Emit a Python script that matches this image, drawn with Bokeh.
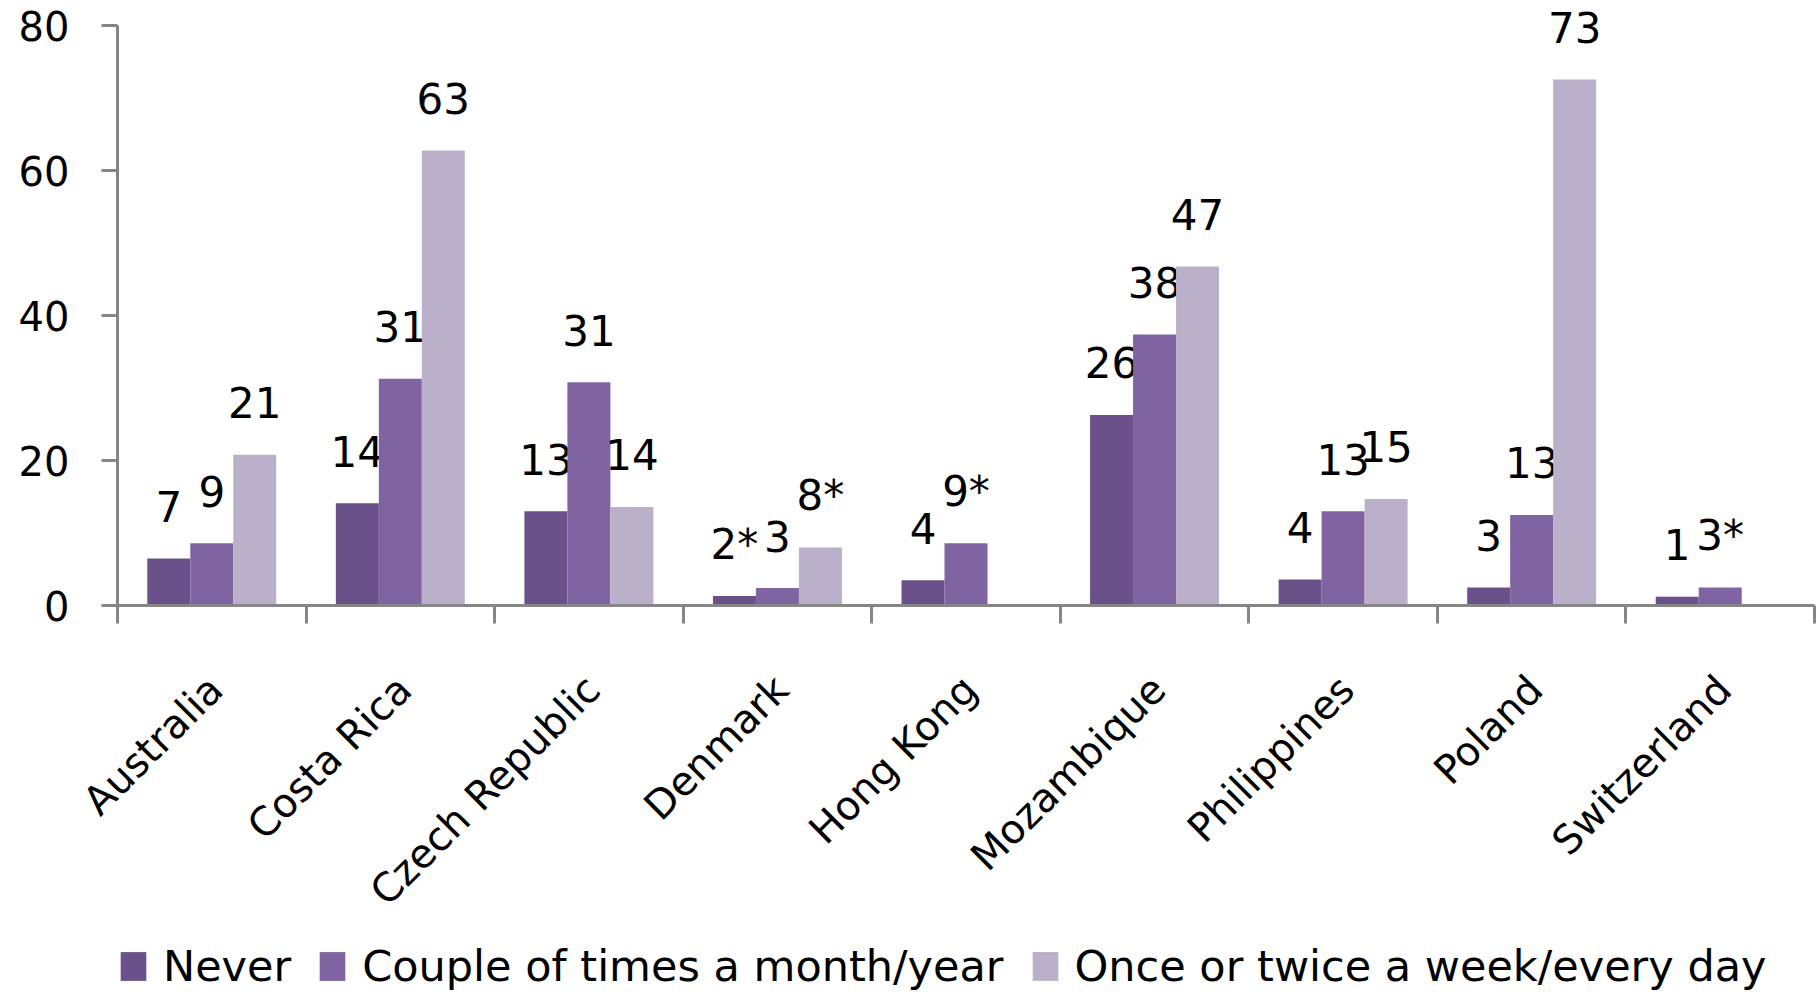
import math
from bokeh.plotting import figure
from bokeh.layouts import column
from bokeh.models import (ColumnDataSource, Range1d, FixedTicker, LinearAxis,
                          Legend, LegendItem)
from bokeh.core.properties import value
from bokeh.embed import file_html
from bokeh.resources import INLINE

countries = ["Australia", "Costa Rica", "Czech Republic", "Denmark", "Hong Kong",
             "Mozambique", "Philippines", "Poland", "Switzerland"]
series = ["Never", "Couple of times a month/year", "Once or twice a week/every day"]
never = [6.5, 14.1, 13.0, 1.3, 3.5, 26.3, 3.6, 2.5, 1.2]
couple = [8.6, 31.3, 30.8, 2.4, 8.6, 37.4, 13.0, 12.5, 2.5]
often = [20.8, 62.8, 13.6, 8.0, None, 46.8, 14.7, 72.6, None]
never_labels = ["7", "14", "13", "2*", "4", "26", "4", "3", "1"]
couple_labels = ["9", "31", "31", "3", "9*", "38", "13", "13", "3*"]
often_labels = ["21", "63", "14", "8*", "", "47", "15", "73", ""]
y_ticks = [0, 20, 40, 60, 80]

colors = ["#6A5189", "#8064A2", "#BAB0CA"]
FONT = "DejaVu Sans"

p = figure(width=1820, height=935, output_backend="svg", toolbar_location=None,
           x_range=Range1d(0, len(countries)), y_range=Range1d(0, 82.4),
           x_axis_type=None, y_axis_type=None,
           min_border_left=117, min_border_right=6, min_border_top=8,
           min_border_bottom=330)
p.outline_line_color = None
p.xgrid.visible = False
p.ygrid.visible = False
p.background_fill_color = "white"
p.border_fill_color = "white"

bar_w = 0.228
sources = []
for k, (vals, labs) in enumerate([(never, never_labels), (couple, couple_labels), (often, often_labels)]):
    xs, tops, texts = [], [], []
    for i, (v, t) in enumerate(zip(vals, labs)):
        if v is None:
            continue
        xs.append(i + 0.5 + (k - 1) * bar_w)
        tops.append(v)
        texts.append(t)
    src = ColumnDataSource(dict(x=xs, top=tops, text=texts))
    sources.append(src)
    p.vbar(x="x", top="top", width=bar_w, bottom=0, source=src,
           fill_color=colors[k], line_color=None)
    p.text(x="x", y="top", text="text", source=src, text_align="center",
           text_baseline="alphabetic", y_offset=-52,
           text_font=value(FONT), text_font_size="42px", text_color="black")

# y axis
yax = LinearAxis(ticker=FixedTicker(ticks=y_ticks), bounds=(0, 80))
yax.axis_line_color = "#868686"
yax.axis_line_width = 3
yax.major_tick_line_color = "#868686"
yax.major_tick_line_width = 3
yax.major_tick_in = 0
yax.major_tick_out = 16
yax.minor_tick_line_color = None
yax.major_label_standoff = 32
yax.major_label_text_font = FONT
yax.major_label_text_font_size = "40px"
yax.major_label_text_color = "black"
p.add_layout(yax, "left")

# x axis: category boundaries as (minor) ticks, names at category centres
label_pos = [i + 0.5 + 0.02 for i in range(len(countries))]
bounds = list(range(len(countries) + 1))
xax = LinearAxis(ticker=FixedTicker(ticks=label_pos, minor_ticks=bounds))
xax.major_label_overrides = {pos: name for pos, name in zip(label_pos, countries)}
xax.axis_line_color = "#868686"
xax.axis_line_width = 3
xax.major_tick_line_color = None
xax.major_tick_in = 0
xax.major_tick_out = 0
xax.minor_tick_line_color = "#868686"
xax.minor_tick_line_width = 3
xax.minor_tick_in = 0
xax.minor_tick_out = 18
xax.major_label_orientation = math.pi / 4
xax.major_label_standoff = 59
xax.major_label_text_font = FONT
xax.major_label_text_font_size = "40px"
xax.major_label_text_color = "black"
p.add_layout(xax, "below")

# legend strip underneath (proxies share the chart's data, hidden)
lg = figure(width=1820, height=57, output_backend="svg", toolbar_location=None,
            x_range=Range1d(0, 1), y_range=Range1d(0, 1),
            x_axis_type=None, y_axis_type=None,
            min_border_left=0, min_border_right=0, min_border_top=0, min_border_bottom=0)
lg.outline_line_color = None
lg.xgrid.visible = False
lg.ygrid.visible = False
lg.border_fill_color = "white"
items = []
for s, c, src in zip(series, colors, sources):
    r = lg.vbar(x="x", top="top", width=bar_w, source=src, fill_color=c, line_color=None)
    r.visible = False
    items.append(LegendItem(label=s, renderers=[r]))

legend = Legend(items=items, orientation="horizontal", location=(0, 1))
legend.label_text_font = FONT
legend.label_text_font_size = "43px"
legend.label_text_color = "black"
legend.glyph_width = 32
legend.glyph_height = 36
legend.label_standoff = 14
legend.spacing = 25
legend.padding = 0
legend.margin = 0
legend.border_line_color = None
legend.background_fill_alpha = 0
legend.inactive_fill_alpha = 0
lg.add_layout(legend, "center")

page = column(p, lg, spacing=0)
open("out.html", "w").write(file_html(page, INLINE))
